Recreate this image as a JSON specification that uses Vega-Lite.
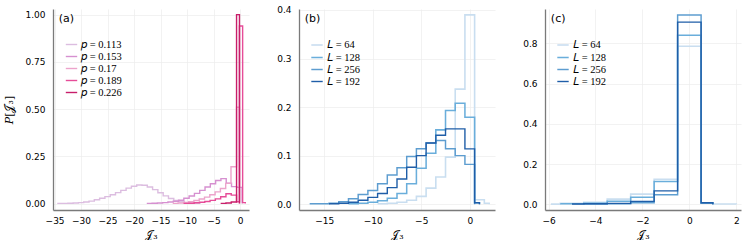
{
  "$schema": "https://vega.github.io/schema/vega-lite/v6.json",
  "padding": {"left": 3, "top": 5, "right": 5, "bottom": 0},
  "spacing": 50,
  "bounds": "flush",
  "datasets": {
    "a": [
      {"s":"p = 0.113","x":-34.5,"y":0.001},{"s":"p = 0.113","x":-33.5,"y":0.001},{"s":"p = 0.113","x":-32.5,"y":0.002},{"s":"p = 0.113","x":-31.5,"y":0.003},{"s":"p = 0.113","x":-30.5,"y":0.005},{"s":"p = 0.113","x":-29.5,"y":0.008},{"s":"p = 0.113","x":-28.5,"y":0.013},{"s":"p = 0.113","x":-27.5,"y":0.020},{"s":"p = 0.113","x":-26.5,"y":0.028},{"s":"p = 0.113","x":-25.5,"y":0.037},{"s":"p = 0.113","x":-24.5,"y":0.047},{"s":"p = 0.113","x":-23.5,"y":0.058},{"s":"p = 0.113","x":-22.5,"y":0.070},{"s":"p = 0.113","x":-21.5,"y":0.082},{"s":"p = 0.113","x":-20.5,"y":0.092},{"s":"p = 0.113","x":-19.5,"y":0.098},{"s":"p = 0.113","x":-18.5,"y":0.097},{"s":"p = 0.113","x":-17.5,"y":0.088},{"s":"p = 0.113","x":-16.5,"y":0.074},{"s":"p = 0.113","x":-15.5,"y":0.057},{"s":"p = 0.113","x":-14.5,"y":0.041},{"s":"p = 0.113","x":-13.5,"y":0.027},{"s":"p = 0.113","x":-12.5,"y":0.017},{"s":"p = 0.113","x":-11.5,"y":0.010},{"s":"p = 0.113","x":-10.5,"y":0.005},{"s":"p = 0.113","x":-9.5,"y":0.002},{"s":"p = 0.113","x":-8.5,"y":0.001},{"s":"p = 0.113","x":-7.5,"y":0},
      {"s":"p = 0.153","x":-17.6,"y":0.001},{"s":"p = 0.153","x":-16.6,"y":0.002},{"s":"p = 0.153","x":-15.6,"y":0.003},{"s":"p = 0.153","x":-14.6,"y":0.005},{"s":"p = 0.153","x":-13.6,"y":0.008},{"s":"p = 0.153","x":-12.6,"y":0.012},{"s":"p = 0.153","x":-11.6,"y":0.018},{"s":"p = 0.153","x":-10.6,"y":0.028},{"s":"p = 0.153","x":-9.6,"y":0.040},{"s":"p = 0.153","x":-8.6,"y":0.054},{"s":"p = 0.153","x":-7.6,"y":0.070},{"s":"p = 0.153","x":-6.6,"y":0.088},{"s":"p = 0.153","x":-5.6,"y":0.105},{"s":"p = 0.153","x":-4.6,"y":0.122},{"s":"p = 0.153","x":-3.6,"y":0.132},{"s":"p = 0.153","x":-2.6,"y":0.108},{"s":"p = 0.153","x":-1.6,"y":0.090},{"s":"p = 0.153","x":-0.6,"y":0.086},{"s":"p = 0.153","x":0.4,"y":0},
      {"s":"p = 0.17","x":-12.7,"y":0.001},{"s":"p = 0.17","x":-11.7,"y":0.003},{"s":"p = 0.17","x":-10.7,"y":0.006},{"s":"p = 0.17","x":-9.7,"y":0.010},{"s":"p = 0.17","x":-8.7,"y":0.016},{"s":"p = 0.17","x":-7.7,"y":0.024},{"s":"p = 0.17","x":-6.7,"y":0.034},{"s":"p = 0.17","x":-5.7,"y":0.047},{"s":"p = 0.17","x":-4.7,"y":0.062},{"s":"p = 0.17","x":-3.7,"y":0.080},{"s":"p = 0.17","x":-2.7,"y":0.107},{"s":"p = 0.17","x":-1.7,"y":0.195},{"s":"p = 0.17","x":-0.65,"y":0.51},{"s":"p = 0.17","x":-0.1,"y":0},
      {"s":"p = 0.189","x":-10.65,"y":0.001},{"s":"p = 0.189","x":-9.65,"y":0.002},{"s":"p = 0.189","x":-8.65,"y":0.004},{"s":"p = 0.189","x":-7.65,"y":0.007},{"s":"p = 0.189","x":-6.65,"y":0.011},{"s":"p = 0.189","x":-5.65,"y":0.017},{"s":"p = 0.189","x":-4.65,"y":0.025},{"s":"p = 0.189","x":-3.65,"y":0.036},{"s":"p = 0.189","x":-2.65,"y":0.052},{"s":"p = 0.189","x":-1.65,"y":0.045},{"s":"p = 0.189","x":-0.65,"y":0.01},{"s":"p = 0.189","x":-0.1,"y":0.94},{"s":"p = 0.189","x":0.5,"y":0.005},{"s":"p = 0.189","x":1.0,"y":0},
      {"s":"p = 0.226","x":-3.65,"y":0.001},{"s":"p = 0.226","x":-2.65,"y":0.003},{"s":"p = 0.226","x":-1.65,"y":0.008},{"s":"p = 0.226","x":-0.65,"y":1.0},{"s":"p = 0.226","x":-0.1,"y":0}
    ],
    "b": [
      {"s":"L = 64","x":-9.5,"y":0.001},{"s":"L = 64","x":-8.5,"y":0.002},{"s":"L = 64","x":-7.5,"y":0.004},{"s":"L = 64","x":-6.5,"y":0.008},{"s":"L = 64","x":-5.5,"y":0.016},{"s":"L = 64","x":-4.5,"y":0.033},{"s":"L = 64","x":-3.5,"y":0.056},{"s":"L = 64","x":-2.5,"y":0.097},{"s":"L = 64","x":-1.5,"y":0.237},{"s":"L = 64","x":-0.5,"y":0.39},{"s":"L = 64","x":0.5,"y":0.009},{"s":"L = 64","x":1.5,"y":0.002},{"s":"L = 64","x":2.0,"y":0},
      {"s":"L = 128","x":-12.5,"y":0.001},{"s":"L = 128","x":-11.5,"y":0.002},{"s":"L = 128","x":-10.5,"y":0.004},{"s":"L = 128","x":-9.5,"y":0.007},{"s":"L = 128","x":-8.5,"y":0.012},{"s":"L = 128","x":-7.5,"y":0.022},{"s":"L = 128","x":-6.5,"y":0.042},{"s":"L = 128","x":-5.5,"y":0.074},{"s":"L = 128","x":-4.5,"y":0.105},{"s":"L = 128","x":-3.5,"y":0.153},{"s":"L = 128","x":-2.5,"y":0.193},{"s":"L = 128","x":-1.5,"y":0.208},{"s":"L = 128","x":-0.5,"y":0.179},{"s":"L = 128","x":0.5,"y":0.003},{"s":"L = 128","x":1.0,"y":0},
      {"s":"L = 256","x":-16.5,"y":0.001},{"s":"L = 256","x":-15.5,"y":0.001},{"s":"L = 256","x":-14.5,"y":0.002},{"s":"L = 256","x":-13.5,"y":0.005},{"s":"L = 256","x":-12.5,"y":0.011},{"s":"L = 256","x":-11.5,"y":0.020},{"s":"L = 256","x":-10.5,"y":0.028},{"s":"L = 256","x":-9.5,"y":0.042},{"s":"L = 256","x":-8.5,"y":0.060},{"s":"L = 256","x":-7.5,"y":0.075},{"s":"L = 256","x":-6.5,"y":0.098},{"s":"L = 256","x":-5.5,"y":0.114},{"s":"L = 256","x":-4.5,"y":0.126},{"s":"L = 256","x":-3.5,"y":0.131},{"s":"L = 256","x":-2.5,"y":0.114},{"s":"L = 256","x":-1.5,"y":0.100},{"s":"L = 256","x":-0.5,"y":0.082},{"s":"L = 256","x":0.5,"y":0},
      {"s":"L = 192","x":-14.5,"y":0.001},{"s":"L = 192","x":-13.5,"y":0.002},{"s":"L = 192","x":-12.5,"y":0.004},{"s":"L = 192","x":-11.5,"y":0.008},{"s":"L = 192","x":-10.5,"y":0.014},{"s":"L = 192","x":-9.5,"y":0.022},{"s":"L = 192","x":-8.5,"y":0.034},{"s":"L = 192","x":-7.5,"y":0.052},{"s":"L = 192","x":-6.5,"y":0.076},{"s":"L = 192","x":-5.5,"y":0.100},{"s":"L = 192","x":-4.5,"y":0.126},{"s":"L = 192","x":-3.5,"y":0.142},{"s":"L = 192","x":-2.5,"y":0.155},{"s":"L = 192","x":-1.5,"y":0.155},{"s":"L = 192","x":-0.5,"y":0.114},{"s":"L = 192","x":0.5,"y":0.003},{"s":"L = 192","x":1.0,"y":0}
    ],
    "c": [
      {"s":"L = 64","x":-5.9,"y":0.001},{"s":"L = 64","x":-5.5,"y":0.005},{"s":"L = 64","x":-4.5,"y":0.010},{"s":"L = 64","x":-3.5,"y":0.026},{"s":"L = 64","x":-2.5,"y":0.051},{"s":"L = 64","x":-1.5,"y":0.125},{"s":"L = 64","x":-0.5,"y":0.785},{"s":"L = 64","x":0.5,"y":0.008},{"s":"L = 64","x":1.0,"y":0.002},{"s":"L = 64","x":2.0,"y":0},
      {"s":"L = 128","x":-5.5,"y":0.003},{"s":"L = 128","x":-4.5,"y":0.006},{"s":"L = 128","x":-3.5,"y":0.015},{"s":"L = 128","x":-2.5,"y":0.035},{"s":"L = 128","x":-1.5,"y":0.114},{"s":"L = 128","x":-0.5,"y":0.84},{"s":"L = 128","x":0.5,"y":0.008},{"s":"L = 128","x":1.0,"y":0},
      {"s":"L = 256","x":-4.5,"y":0.002},{"s":"L = 256","x":-3.5,"y":0.003},{"s":"L = 256","x":-2.5,"y":0.008},{"s":"L = 256","x":-1.5,"y":0.048},{"s":"L = 256","x":-0.5,"y":0.94},{"s":"L = 256","x":0.5,"y":0.006},{"s":"L = 256","x":1.0,"y":0},
      {"s":"L = 192","x":-5.0,"y":0.002},{"s":"L = 192","x":-4.5,"y":0.003},{"s":"L = 192","x":-3.5,"y":0.005},{"s":"L = 192","x":-2.5,"y":0.015},{"s":"L = 192","x":-1.5,"y":0.067},{"s":"L = 192","x":-0.5,"y":0.905},{"s":"L = 192","x":0.5,"y":0.008},{"s":"L = 192","x":1.0,"y":0}
    ]
  },
  "hconcat": [
    {
      "width": 196, "height": 201,
      "encoding": {
        "x": {"field": "x", "type": "quantitative", "title": "𝒥₃", "scale": {"domain": [-35.3, 1.7], "nice": false, "zero": false}, "axis": {"values": [-35, -30, -25, -20, -15, -10, -5, 0], "labelOverlap": false}},
        "y": {"field": "y", "type": "quantitative", "title": "𝑃[𝒥₃]", "scale": {"domain": [-0.034, 1.03], "nice": false, "zero": false}, "axis": {"values": [0, 0.25, 0.5, 0.75, 1.0], "format": ".2f"}}
      },
      "layer": [
        {
          "data": {"name": "a"},
          "mark": {"type": "line", "interpolate": "step-after", "clip": true},
          "encoding": {
            "color": {"field": "s", "type": "nominal", "scale": {"domain": ["p = 0.113", "p = 0.153", "p = 0.17", "p = 0.189", "p = 0.226"], "range": ["#dcbde0", "#d690d0", "#eca3cb", "#e64c98", "#c81e6a"]}, "legend": {"legendX": 12, "legendY": 29, "labelExpr": "replace(datum.label, 'p', '𝑝')"}},
            "strokeWidth": {"field": "s", "type": "ordinal", "scale": {"domain": ["p = 0.113", "p = 0.153", "p = 0.17", "p = 0.189", "p = 0.226"], "range": [1.4, 1.4, 1.8, 1.5, 1.5]}, "legend": null}
          }
        },
        {
          "data": {"values": [{"x": -34.2, "y": 0.975, "t": "(a)"}]},
          "mark": {"type": "text", "align": "left", "baseline": "middle", "font": "DejaVu Sans", "fontSize": 11},
          "encoding": {"text": {"field": "t"}}
        }
      ]
    },
    {
      "width": 196, "height": 201,
      "encoding": {
        "x": {"field": "x", "type": "quantitative", "title": "𝒥₃", "scale": {"domain": [-17.6, 2.6], "nice": false, "zero": false}, "axis": {"values": [-15, -10, -5, 0]}},
        "y": {"field": "y", "type": "quantitative", "title": null, "scale": {"domain": [-0.012, 0.402], "nice": false, "zero": false}, "axis": {"values": [0, 0.1, 0.2, 0.3, 0.4], "format": ".1f"}}
      },
      "layer": [
        {
          "data": {"name": "b"},
          "mark": {"type": "line", "interpolate": "step-after", "clip": true},
          "encoding": {
            "color": {"field": "s", "type": "nominal", "scale": {"domain": ["L = 64", "L = 128", "L = 256", "L = 192"], "range": ["#c9def0", "#6aaedb", "#5d9dd0", "#1f5ea8"]}, "legend": {"legendX": 11, "legendY": 29, "labelExpr": "replace(datum.label, 'L', '𝐿')"}},
            "strokeWidth": {"field": "s", "type": "ordinal", "scale": {"domain": ["L = 64", "L = 128", "L = 256", "L = 192"], "range": [1.6, 1.4, 2.2, 1.5]}, "legend": null}
          }
        },
        {
          "data": {"values": [{"x": -17.0, "y": 0.381, "t": "(b)"}]},
          "mark": {"type": "text", "align": "left", "baseline": "middle", "font": "DejaVu Sans", "fontSize": 11},
          "encoding": {"text": {"field": "t"}}
        }
      ]
    },
    {
      "width": 196, "height": 201,
      "encoding": {
        "x": {"field": "x", "type": "quantitative", "title": "𝒥₃", "scale": {"domain": [-6.15, 2.2], "nice": false, "zero": false}, "axis": {"values": [-6, -4, -2, 0, 2]}},
        "y": {"field": "y", "type": "quantitative", "title": null, "scale": {"domain": [-0.028, 0.97], "nice": false, "zero": false}, "axis": {"values": [0, 0.2, 0.4, 0.6, 0.8], "format": ".1f"}}
      },
      "layer": [
        {
          "data": {"name": "c"},
          "mark": {"type": "line", "interpolate": "step-after", "clip": true},
          "encoding": {
            "color": {"field": "s", "type": "nominal", "scale": {"domain": ["L = 64", "L = 128", "L = 256", "L = 192"], "range": ["#c9def0", "#6aaedb", "#5d9dd0", "#1f5ea8"]}, "legend": {"legendX": 11, "legendY": 29, "labelExpr": "replace(datum.label, 'L', '𝐿')"}},
            "strokeWidth": {"field": "s", "type": "ordinal", "scale": {"domain": ["L = 64", "L = 128", "L = 256", "L = 192"], "range": [1.6, 1.4, 2.2, 1.5]}, "legend": null}
          }
        },
        {
          "data": {"values": [{"x": -5.9, "y": 0.919, "t": "(c)"}]},
          "mark": {"type": "text", "align": "left", "baseline": "middle", "font": "DejaVu Sans", "fontSize": 11},
          "encoding": {"text": {"field": "t"}}
        }
      ]
    }
  ],
  "resolve": {"scale": {"color": "independent", "strokeWidth": "independent", "x": "independent", "y": "independent"}, "legend": {"color": "independent"}},
  "config": {
    "view": {"stroke": null},
    "axis": {
      "domainColor": "#7a7a7a", "domainWidth": 1.3,
      "gridColor": "#ececec", "gridWidth": 0.7,
      "ticks": false, "labelOverlap": false,
      "labelFont": "DejaVu Sans", "labelFontSize": 9, "labelColor": "#000000",
      "titleFont": "DejaVu Serif", "titleFontSize": 11, "titleFontWeight": "normal", "titleColor": "#000000"
    },
    "axisX": {"labelPadding": 6, "titlePadding": 4},
    "axisY": {"labelPadding": 8, "titlePadding": 10},
    "legend": {
      "orient": "none", "title": null,
      "labelFont": "Liberation Serif", "labelFontSize": 10.5, "labelColor": "#000000",
      "symbolType": "stroke", "symbolSize": 130, "symbolStrokeWidth": 1.6,
      "rowPadding": -0.8, "labelOffset": 3
    }
  }
}
